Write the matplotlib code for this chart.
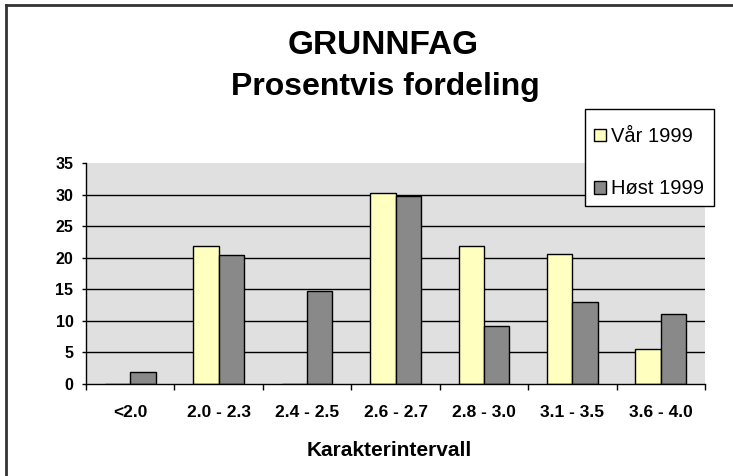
import matplotlib
matplotlib.use("Agg")
import matplotlib.pyplot as plt
from matplotlib.lines import Line2D
from matplotlib.patches import Rectangle
import numpy as np

categories = ["<2.0", "2.0 - 2.3", "2.4 - 2.5", "2.6 - 2.7", "2.8 - 3.0", "3.1 - 3.5", "3.6 - 4.0"]
var_1999 = [0, 21.9, 0, 30.3, 21.9, 20.6, 5.5]
host_1999 = [1.9, 20.4, 14.8, 29.7, 9.2, 13.0, 11.1]
series_labels = ["Vår 1999", "Høst 1999"]
yticks = [0, 5, 10, 15, 20, 25, 30, 35]

plt.rcParams['font.family'] = ['Liberation Sans', 'DejaVu Sans']

W, H = 733, 476
fig = plt.figure(figsize=(W / 100, H / 100), dpi=100)
ax = fig.add_axes([86 / W, 1 - 384 / H, (705 - 86) / W, (384 - 163) / H])
ax.set_facecolor('#e0e0e0')

x = np.arange(len(categories))
w = 0.286
b1 = ax.bar(x - w / 2, var_1999, w, color='#ffffc0', edgecolor='black', linewidth=1.0, zorder=3)
b2 = ax.bar(x + w / 2, host_1999, w, color='#898989', edgecolor='black', linewidth=1.0, zorder=3)

ax.set_xlim(-0.5, len(categories) - 0.5)
ax.set_ylim(0, 35)
ax.set_yticks(yticks)
ax.set_yticklabels([str(v) for v in yticks], fontsize=11.5, fontweight='bold')
for v in yticks[1:-1]:
    ax.axhline(v, color='black', linewidth=1.0, zorder=1)

ax.set_xticks(np.arange(len(categories) + 1) - 0.5)
ax.set_xticklabels([])
ax.set_xticks(x, minor=True)
ax.set_xticklabels(categories, minor=True, fontsize=12.5, fontweight='bold')
ax.tick_params(axis='x', which='major', direction='out', length=4.5, width=1, color='black')
ax.tick_params(axis='x', which='minor', length=0, pad=15)
ax.tick_params(axis='y', direction='out', length=3, width=1, pad=6)

for s in ['top', 'right']:
    ax.spines[s].set_visible(False)
for s in ['left', 'bottom']:
    ax.spines[s].set_color('black')
    ax.spines[s].set_linewidth(1.0)
    ax.spines[s].set_zorder(4)

fig.text(383 / W, 1 - 45 / H, "GRUNNFAG", ha='center', va='center', fontsize=24, fontweight='bold')
fig.text(385 / W, 1 - 87 / H, "Prosentvis fordeling", ha='center', va='center', fontsize=23, fontweight='bold')
fig.text(389 / W, 1 - 451 / H, "Karakterintervall", ha='center', va='center', fontsize=15, fontweight='bold')

# legend frame
fig.add_artist(Rectangle((585 / W, 1 - 206 / H), (714 - 585) / W, (206 - 109) / H,
                         transform=fig.transFigure, facecolor='white', edgecolor='black',
                         linewidth=1.0, zorder=5))
leg = fig.legend([b1, b2], series_labels, loc='upper left',
                 bbox_to_anchor=(594 / W, 1 - 127 / H), bbox_transform=fig.transFigure,
                 fontsize=14.5, frameon=False, borderpad=0, labelspacing=1.65,
                 handlelength=0.6, handleheight=0.6, handletextpad=0.25, borderaxespad=0)
leg.set_zorder(6)

fig.add_artist(Line2D([6 / W, 6 / W], [0, 1 - 5 / H], transform=fig.transFigure, color='#333333', linewidth=2))
fig.add_artist(Line2D([6 / W, 1], [1 - 5 / H, 1 - 5 / H], transform=fig.transFigure, color='#333333', linewidth=2))

fig.savefig('out.png', dpi=100)
